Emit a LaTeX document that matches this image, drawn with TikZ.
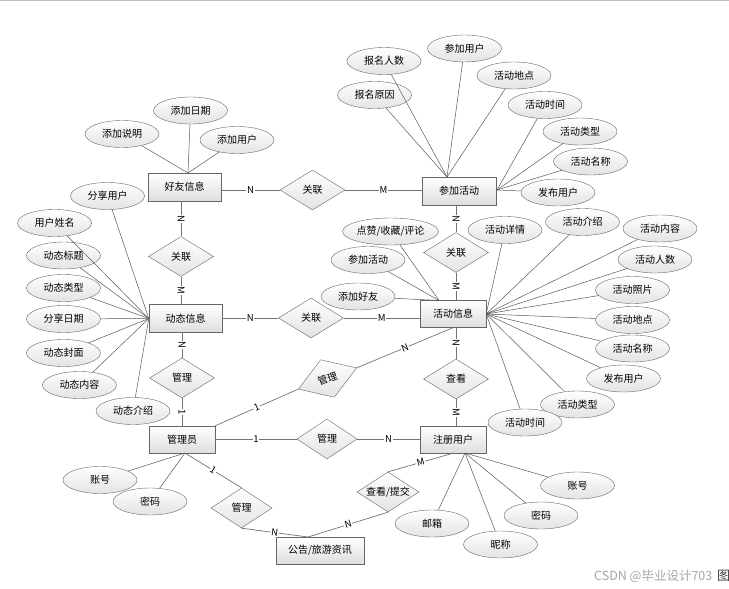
\documentclass[tikz,border=0pt]{standalone}
\usepackage{fontspec}
\setmainfont{Noto Sans CJK SC}
\usetikzlibrary{shapes.geometric}
\begin{document}
\begin{tikzpicture}[x=1pt,y=-1pt,
  font=\fontsize{10}{12}\selectfont,
  ent/.style={rectangle, draw=black!60, top color=white, bottom color=black!13, minimum width=73pt, minimum height=28pt, inner sep=0pt},
  attr/.style={ellipse, draw=black!60, top color=white, bottom color=black!11, minimum width=74pt, minimum height=27pt, inner sep=0pt},
  rel/.style={diamond, draw=black!60, top color=white, bottom color=black!11, aspect=1.6, minimum width=65pt, minimum height=40pt, inner sep=0pt},
  link/.style={draw=black!55, line width=0.7pt},
  alink/.style={draw=black!65, line width=0.5pt},
  card/.style={fill=white, inner sep=0.6pt, font=\fontsize{9.5}{10}\selectfont, sloped}
]
\useasboundingbox (0,0) rectangle (729,589);
\fill[white] (0,0) rectangle (729,589);
\draw[black!25, line width=1pt] (0,0.5) -- (729,0.5);

% entities
\node[ent] (hy) at (184.5,187) {好友信息};
\node[ent, minimum width=74pt] (cj) at (459,191) {参加活动};
\node[ent] (dt) at (185.5,318.5) {动态信息};
\node[ent, minimum width=66pt, minimum height=27pt] (hd) at (453,314) {活动信息};
\node[ent, minimum width=66pt, minimum height=27pt] (gly) at (182,439.5) {管理员};
\node[ent, minimum width=66pt, minimum height=27pt] (zc) at (453,439.5) {注册用户};
\node[ent, minimum width=88pt, minimum height=27pt] (gg) at (320,550.5) {公告/旅游资讯};

% relations
\node[rel] (r1) at (312.5,190) {关联};
\node[rel] (r2) at (181,256.5) {关联};
\node[rel] (r3) at (311,318) {关联};
\node[rel] (r4) at (456,252.5) {关联};
\node[rel] (r5) at (182,378) {管理};
\node[rel, rotate=20, minimum width=62pt] (r6) at (327.5,378.5) {管理};
\node[rel, minimum width=60pt] (r7) at (327,439) {管理};
\node[rel] (r8) at (456,379) {查看};
\node[rel, minimum width=61pt] (r9) at (241.5,508) {管理};
\node[rel, minimum width=62pt] (r10) at (388,492) {查看/提交};

% convergence points
\coordinate (hyT) at (188,173);
\coordinate (cjT) at (447,177);
\coordinate (cjR) at (497,190);
\coordinate (hdT) at (439,300.5);
\coordinate (glyB) at (185,453);
\coordinate (zcB) at (465,453);
\coordinate (ggT) at (308,537);

% relation connectors
\draw[link] (hy.east |- r1) -- node[card]{N} (r1.west);
\draw[link] (r1.east) -- node[card]{M} (cj.west |- r1);
\draw[link] (hy.south -| r2) -- node[card]{N} (r2.north);
\draw[link] (r2.south) -- node[card]{M} (dt.north -| r2);
\draw[link] (dt.east |- r3) -- node[card]{N} (r3.west);
\draw[link] (r3.east) -- node[card]{M} (hd.west |- r3);
\draw[link] (cj.south -| r4) -- node[card]{N} (r4.north);
\draw[link] (r4.south) -- node[card]{M} (hd.north -| r4);
\draw[link] (dt.south -| r5) -- node[card]{N} (r5.north);
\draw[link] (r5.south) -- node[card]{1} (gly.north -| r5);
\draw[link] (hd.south -| r8) -- node[card]{N} (r8.north);
\draw[link] (r8.south) -- node[card]{M} (zc.north -| r8);
\draw[link] (gly.east |- r7) -- node[card]{1} (r7.west);
\draw[link] (r7.east) -- node[card]{N} (zc.west |- r7);
\draw[link] (gly.north east) -- node[card]{1} (r6.west);
\draw[link] (r6.east) -- node[card]{N} (hd.south);
\draw[link] (glyB) -- node[card]{1} (r9.north);
\draw[link] (r9.south) -- node[card]{N} (ggT);
\draw[link] (ggT) -- node[card]{N} (r10.south);
\draw[link] (r10.north) -- node[card]{M} (zc.south);

% attributes of 好友信息
\node[attr] (e1) at (122,134) {添加说明};
\node[attr] (e2) at (190.5,110.5) {添加日期};
\node[attr] (e3) at (237,140) {添加用户};
\foreach \n in {e1,e2,e3} \draw[alink] (\n) -- (hyT);

% attributes of 参加活动
\node[attr] (f1) at (384,61) {报名人数};
\node[attr] (f2) at (464.5,48.5) {参加用户};
\node[attr] (f3) at (374.5,95) {报名原因};
\node[attr] (f4) at (514,75.5) {活动地点};
\node[attr] (f5) at (545,105) {活动时间};
\node[attr] (f6) at (580,131.5) {活动类型};
\node[attr] (f7) at (590.5,161.5) {活动名称};
\node[attr] (f8) at (558,192.5) {发布用户};
\foreach \n in {f1,f2,f3,f4} \draw[alink] (\n) -- (cjT);
\foreach \n in {f5,f6,f7,f8} \draw[alink] (\n) -- (cjR);

% attributes of 动态信息
\node[attr] (g0) at (107.5,196) {分享用户};
\node[attr] (g1) at (54.5,223) {用户姓名};
\node[attr] (g2) at (63.5,255.5) {动态标题};
\node[attr] (g3) at (63.5,288) {动态类型};
\node[attr] (g4) at (63.5,319) {分享日期};
\node[attr] (g5) at (63.5,353) {动态封面};
\node[attr] (g6) at (79.5,385) {动态内容};
\node[attr] (g7) at (133,411) {动态介绍};
\foreach \n in {g0,g1,g2,g3,g4,g5,g6,g7} \draw[alink] (\n) -- (dt.west);

% attributes of 活动信息
\node[attr] (h1) at (390.5,231.5) {点赞/收藏/评论};
\node[attr] (h2) at (368,260) {参加活动};
\node[attr] (h3) at (358,296.5) {添加好友};
\node[attr] (h4) at (505,230) {活动详情};
\node[attr] (h5) at (582.5,222) {活动介绍};
\node[attr] (h6) at (660,228.5) {活动内容};
\node[attr] (h7) at (655,259.5) {活动人数};
\node[attr] (h8) at (632.5,290) {活动照片};
\node[attr] (h9) at (632.5,320) {活动地点};
\node[attr] (h10) at (632.5,348.5) {活动名称};
\node[attr] (h11) at (623.5,378.5) {发布用户};
\node[attr] (h12) at (577.5,404.5) {活动类型};
\node[attr] (h13) at (525,422.5) {活动时间};
\foreach \n in {h1,h2,h3} \draw[alink] (\n) -- (hdT);
\foreach \n in {h4,h5,h6,h7,h8,h9,h10,h11,h12,h13} \draw[alink] (\n) -- (hd.east);

% attributes of 管理员
\node[attr] (k1) at (100,480) {账号};
\node[attr] (k2) at (150,501.5) {密码};
\foreach \n in {k1,k2} \draw[alink] (\n) -- (glyB);

% attributes of 注册用户
\node[attr] (m1) at (577.5,485.5) {账号};
\node[attr] (m2) at (541,515.5) {密码};
\node[attr] (m3) at (500.5,544.5) {昵称};
\node[attr] (m4) at (432,523.5) {邮箱};
\foreach \n in {m1,m2,m3,m4} \draw[alink] (\n) -- (zcB);

% watermark
\node[text=black!35, font=\fontsize{12.5}{13}\selectfont, anchor=west, inner sep=0pt] (wm) at (594,576) {CSDN @毕业设计703};
\node[text=black!75, font=\fontsize{13}{13}\selectfont, anchor=west, inner sep=0pt] (wm2) at (717,576) {图};
\end{tikzpicture}
\end{document}
